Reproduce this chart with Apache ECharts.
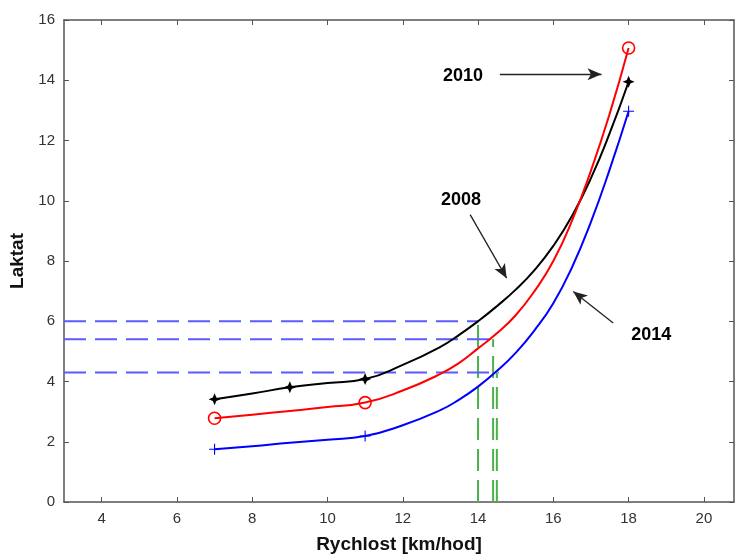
<!DOCTYPE html>
<html>
<head>
<meta charset="utf-8">
<script src="https://cdn.jsdelivr.net/npm/echarts@6/dist/echarts.min.js"></script>
<style>
  html, body { margin: 0; padding: 0; background: #fff; }
  #chart { width: 735px; height: 560px; }
</style>
</head>
<body>
<div id="chart"></div>
<script>
// rychlost (km/hod)
let speed = [7, 8, 9, 10, 11, 12, 13, 13.5, 14, 14.5, 15, 15.5, 16, 16.5, 17, 17.5, 18]
// laktat
let lak2008 = [3.41, 3.6, 3.81, 3.95, 4.08, 4.55, 5.15, 5.55, 6.0, 6.5, 7.05, 7.7, 8.5, 9.5, 10.75, 12.25, 13.95]
let lak2010 = [2.78, 2.9, 3.02, 3.15, 3.30, 3.7, 4.25, 4.62, 5.1, 5.6, 6.2, 7.0, 8.0, 9.35, 11.0, 12.9, 15.07]
let lak2014 = [1.75, 1.85, 1.97, 2.07, 2.19, 2.55, 3.05, 3.4, 3.83, 4.35, 4.95, 5.7, 6.6, 7.8, 9.3, 11.05, 12.97]
// body se znackou
let mark2008 = [7, 9, 11, 18]
let mark2010 = [7, 11, 18]
let mark2014 = [7, 11, 18]
// prahy (carkovane cary)
let prahLaktat = [6.0, 5.4, 4.3]
let prahRychlost = [14.0, 14.4, 14.5]
let prahKonec = [14.0, 14.45, 14.55]
// popisky
let popisky = ['2008', '2010', '2014']
let popisX = [13.55, 13.6, 18.6]
let popisY = [10.03, 14.15, 5.55]
let sipkaOd = [[13.79, 9.54], [14.58, 14.2], [17.59, 5.94]]
let sipkaDo = [[14.76, 7.43], [17.28, 14.2], [16.53, 6.99]]

let xTicks = [4, 6, 8, 10, 12, 14, 16, 18, 20]

function pairs(ys) {
	return speed.map((x, i) => [x, ys[i]])
}
function marks(ys, xs) {
	return speed.map((x, i) => [x, ys[i]]).filter(p => xs.indexOf(p[0]) >= 0)
}

let chart = echarts.init(document.getElementById('chart'))

let font = '"Liberation Sans", Arial, sans-serif'
let axisCol = '#555'
let starPath = 'path://M0,-10 L3,-3 L10,0 L3,3 L0,10 L-3,3 L-10,0 L-3,-3 Z'
let plusPath = 'path://M-1,-10 L1,-10 L1,-1 L10,-1 L10,1 L1,1 L1,10 L-1,10 L-1,1 L-10,1 L-10,-1 L-1,-1 Z'

let series = []

// carkovane prahy
for (let i = 0; i < prahLaktat.length; i++) {
	series.push({
		type: 'line',
		data: [[3, prahLaktat[i]], [prahKonec[i], prahLaktat[i]]],
		showSymbol: false,
		lineStyle: { color: '#5b5bff', width: 2, type: [22, 9] },
		z: 1
	})
	series.push({
		type: 'line',
		data: [[prahRychlost[i], 0], [prahRychlost[i], prahLaktat[i]]],
		showSymbol: false,
		lineStyle: { color: '#4cb04c', width: 2, type: [22, 9] },
		z: 1
	})
}

let krivky = [
	{ ys: lak2008, xs: mark2008, color: '#000000', symbol: starPath, size: 12, fill: '#000000' },
	{ ys: lak2010, xs: mark2010, color: '#ff0000', symbol: 'circle', size: 12, fill: 'rgba(0,0,0,0)' },
	{ ys: lak2014, xs: mark2014, color: '#0000ff', symbol: plusPath, size: 11, fill: '#0000ff' }
]
krivky.forEach(k => {
	series.push({
		type: 'line',
		data: pairs(k.ys),
		smooth: 0.5,
		showSymbol: false,
		lineStyle: { color: k.color, width: 2 },
		z: 3
	})
	series.push({
		type: 'scatter',
		data: marks(k.ys, k.xs),
		symbol: k.symbol,
		symbolSize: k.size,
		itemStyle: {
			opacity: 1,
			color: k.fill,
			borderColor: k.color,
			borderWidth: k.symbol == 'circle' ? 1.6 : 0
		},
		z: 4
	})
})

// sipky
series.push({
	type: 'line',
	data: [],
	markLine: {
		silent: true,
		symbol: ['none', 'arrow'],
		symbolSize: [9, 14],
		lineStyle: { color: '#222', width: 1.3, type: 'solid' },
		label: { show: false },
		data: sipkaOd.map((a, i) => [{ coord: a }, { coord: sipkaDo[i] }])
	}
})

// popisky
series.push({
	type: 'scatter',
	data: popisky.map((n, i) => ({ name: n, value: [popisX[i], popisY[i]] })),
	symbolSize: 0,
	itemStyle: { opacity: 1 },
	label: {
		show: true,
		position: 'inside',
		formatter: '{b}',
		fontFamily: font,
		fontWeight: 'bold',
		fontSize: 18,
		color: '#000'
	},
	z: 5
})

let option = {
	animation: false,
	backgroundColor: '#fff',
	grid: { left: 64, right: 1, top: 20, bottom: 58 },
	xAxis: [{
		type: 'value',
		min: 3, max: 20.8,
		position: 'bottom',
		name: 'Rychlost [km/hod]',
		nameLocation: 'middle',
		nameGap: 33,
		nameTextStyle: { fontFamily: font, fontWeight: 'bold', fontSize: 19, color: '#111' },
		splitLine: { show: false },
		axisLine: { onZero: false, lineStyle: { color: axisCol, width: 1.5 } },
		axisTick: { inside: true, length: 5, customValues: xTicks, lineStyle: { color: axisCol } },
		axisLabel: { customValues: xTicks, fontFamily: font, fontSize: 15, color: '#333', margin: 9 }
	}, {
		type: 'value',
		min: 3, max: 20.8,
		position: 'top',
		splitLine: { show: false },
		axisLine: { onZero: false, lineStyle: { color: axisCol, width: 1.5 } },
		axisTick: { inside: true, length: 5, customValues: xTicks, lineStyle: { color: axisCol } },
		axisLabel: { show: false }
	}],
	yAxis: [{
		type: 'value',
		min: 0, max: 16, interval: 2,
		name: 'Laktat',
		nameLocation: 'middle',
		nameGap: 30,
		nameTextStyle: { fontFamily: font, fontWeight: 'bold', fontSize: 19, color: '#111' },
		splitLine: { show: false },
		axisLine: { show: true, onZero: false, lineStyle: { color: axisCol, width: 1.5 } },
		axisTick: { show: true, inside: true, length: 5, lineStyle: { color: axisCol } },
		axisLabel: { fontFamily: font, fontSize: 15, color: '#333', margin: 9 }
	}, {
		type: 'value',
		min: 0, max: 16, interval: 2,
		position: 'right',
		splitLine: { show: false },
		axisLine: { show: true, onZero: false, lineStyle: { color: axisCol, width: 1.5 } },
		axisTick: { show: true, inside: true, length: 5, lineStyle: { color: axisCol } },
		axisLabel: { show: false }
	}],
	series: series
}

chart.setOption(option)
</script>
</body>
</html>
